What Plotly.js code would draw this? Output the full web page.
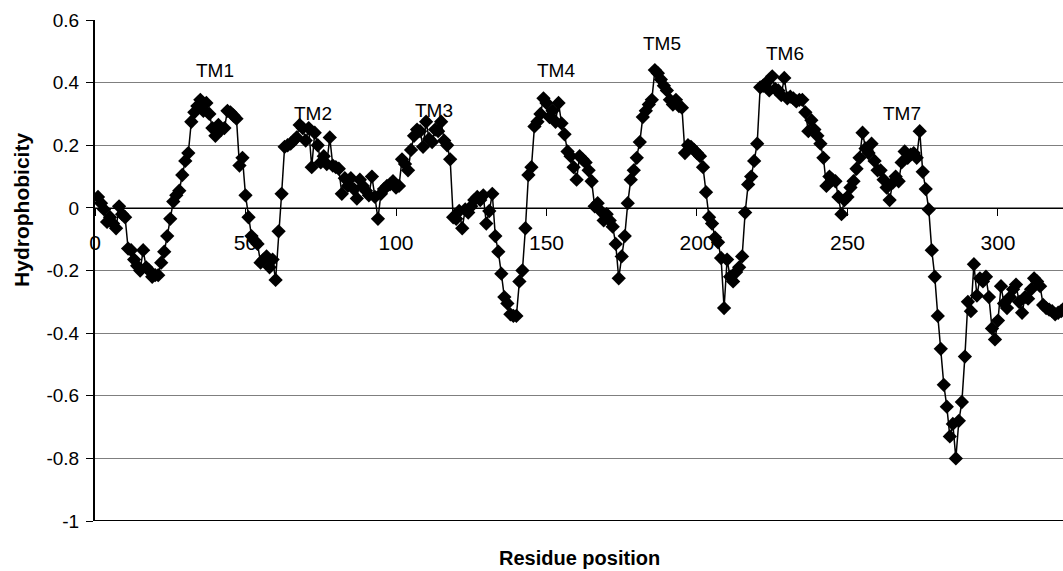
<!DOCTYPE html>
<html>
<head>
<meta charset="utf-8">
<script src="https://cdn.plot.ly/plotly-3.0.1.min.js"></script>
<style>
  html, body { margin: 0; padding: 0; background: #ffffff; }
  #chart { width: 1063px; height: 571px; }
</style>
</head>
<body>
<div id="chart"></div>
<script>
// Hydrophobicity value for residue 1, 2, 3, ...
const hydrophobicity = [
  0.035, 0.015, -0.005, -0.045, -0.03, -0.05, -0.065, 0.005, -0.02, -0.03,
  -0.13, -0.135, -0.165, -0.185, -0.2, -0.135, -0.19, -0.2, -0.22, -0.215,
  -0.215, -0.175, -0.14, -0.09, -0.035, 0.02, 0.04, 0.055, 0.105, 0.15,
  0.175, 0.275, 0.305, 0.325, 0.345, 0.31, 0.335, 0.3, 0.255, 0.23,
  0.265, 0.25, 0.255, 0.31, 0.305, 0.295, 0.285, 0.135, 0.16, 0.04,
  -0.03, -0.09, -0.105, -0.115, -0.175, -0.165, -0.155, -0.19, -0.165, -0.23,
  -0.075, 0.045, 0.195, 0.2, 0.205, 0.215, 0.225, 0.265, 0.255, 0.215,
  0.255, 0.13, 0.24, 0.2, 0.145, 0.165, 0.14, 0.225, 0.135, 0.13,
  0.125, 0.045, 0.095, 0.07, 0.095, 0.06, 0.03, 0.09, 0.07, 0.055,
  0.04, 0.1, 0.035, -0.035, 0.045, 0.06, 0.07, 0.075, 0.085, 0.065,
  0.07, 0.155, 0.14, 0.12, 0.185, 0.23, 0.25, 0.245, 0.195, 0.275,
  0.22, 0.21, 0.25, 0.245, 0.275, 0.215, 0.2, 0.155, -0.03, -0.035,
  -0.01, -0.065, -0.005, -0.015, 0.005, 0.025, 0.035, 0.025, 0.04, -0.05,
  -0.01, 0.045, -0.09, -0.14, -0.21, -0.285, -0.305, -0.34, -0.345, -0.345,
  -0.235, -0.2, -0.065, 0.105, 0.13, 0.26, 0.275, 0.3, 0.35, 0.335,
  0.29, 0.31, 0.275, 0.335, 0.27, 0.235, 0.18, 0.165, 0.13, 0.09,
  0.165, 0.155, 0.145, 0.12, 0.085, 0.005, 0.015, -0.01, -0.04, -0.02,
  -0.04, -0.06, -0.115, -0.225, -0.155, -0.09, 0.015, 0.09, 0.12, 0.16,
  0.21, 0.29, 0.31, 0.33, 0.345, 0.44, 0.43, 0.41, 0.39, 0.375,
  0.345, 0.33, 0.345, 0.325, 0.32, 0.175, 0.2, 0.195, 0.185, 0.175,
  0.165, 0.13, 0.05, -0.03, -0.05, -0.095, -0.11, -0.16, -0.32, -0.165,
  -0.22, -0.235, -0.205, -0.19, -0.155, -0.015, 0.075, 0.1, 0.15, 0.205,
  0.385, 0.39, 0.4, 0.375, 0.42, 0.38, 0.375, 0.36, 0.415, 0.35,
  0.355, 0.35, 0.34, 0.345, 0.345, 0.305, 0.245, 0.28, 0.25, 0.23,
  0.205, 0.16, 0.07, 0.1, 0.09, 0.085, 0.035, -0.02, 0.025, 0.035,
  0.065, 0.085, 0.125, 0.16, 0.24, 0.19, 0.175, 0.205, 0.15, 0.12,
  0.12, 0.09, 0.065, 0.025, 0.08, 0.1, 0.085, 0.145, 0.18, 0.16,
  0.17, 0.175, 0.16, 0.245, 0.115, 0.06, -0.005, -0.135, -0.22, -0.345,
  -0.45, -0.565, -0.635, -0.73, -0.69, -0.8, -0.68, -0.62, -0.475, -0.3,
  -0.33, -0.18, -0.28, -0.225, -0.235, -0.22, -0.285, -0.385, -0.42, -0.36,
  -0.25, -0.305, -0.32, -0.285, -0.26, -0.245, -0.3, -0.335, -0.285, -0.29,
  -0.26, -0.225, -0.235, -0.25, -0.31, -0.32, -0.325, -0.33, -0.34, -0.335,
  -0.33, -0.32, -0.325
];
const residue = hydrophobicity.map((_, i) => i + 1);

// Transmembrane segment labels and where they sit (data coordinates)
const tmLabels = ["TM1", "TM2", "TM3", "TM4", "TM5", "TM6", "TM7"];
const tmX      = [40, 72.3, 112.7, 153.2, 188.4, 229.3, 268.1];
const tmY      = [0.44, 0.30, 0.31, 0.438, 0.524, 0.492, 0.30];

// Axis ticks
const xTickVals = [0, 50, 100, 150, 200, 250, 300];
const xTickText = ["0", "50", "100", "150", "200", "250", "300"];
const yTickVals = [0.6, 0.4, 0.2, 0, -0.2, -0.4, -0.6, -0.8, -1];
const yTickText = ["0.6", "0.4", "0.2", "0", "-0.2", "-0.4", "-0.6", "-0.8", "-1"];

const FONT = 'Arial, "Liberation Sans", sans-serif';

const trace = {
  type: 'scatter',
  mode: 'lines+markers',
  x: residue,
  y: hydrophobicity,
  line: { color: '#000000', width: 1.5 },
  marker: { symbol: 'diamond', size: 11, color: '#000000' },
  cliponaxis: true,
  hoverinfo: 'x+y'
};

const annotations = tmLabels.map((t, i) => ({
  x: tmX[i], y: tmY[i], xref: 'x', yref: 'y',
  text: t, showarrow: false,
  font: { family: FONT, size: 19, color: '#000000' }
}));
annotations.push({
  x: 0.5, y: 0, xref: 'paper', yref: 'paper',
  xanchor: 'center', yanchor: 'middle', yshift: -37,
  text: '<b>Residue position</b>', showarrow: false,
  font: { family: FONT, size: 20, color: '#000000' }
});
annotations.push({
  x: 0, y: 0.621, xref: 'paper', yref: 'paper',
  xanchor: 'center', yanchor: 'middle', xshift: -73,
  textangle: -90,
  text: '<b>Hydrophobicity</b>', showarrow: false,
  font: { family: FONT, size: 21, color: '#000000' }
});

const layout = {
  width: 1063,
  height: 571,
  margin: { l: 95, r: 0, t: 20, b: 50, pad: 0 },
  paper_bgcolor: '#ffffff',
  plot_bgcolor: '#ffffff',
  showlegend: false,
  font: { family: FONT, size: 19, color: '#000000' },
  xaxis: {
    range: [0, 321.6],
    anchor: 'free',
    position: 0.625,
    tickmode: 'array',
    tickvals: xTickVals,
    ticktext: xTickText,
    ticks: 'outside',
    ticklen: 7,
    tickcolor: '#000000',
    ticklabelstandoff: 9,
    showgrid: false,
    zeroline: false,
    showline: true,
    linecolor: '#000000',
    linewidth: 1,
    tickfont: { family: FONT, size: 21, color: '#000000' }
  },
  yaxis: {
    range: [-1, 0.6],
    tickmode: 'array',
    tickvals: yTickVals,
    ticktext: yTickText,
    ticks: 'outside',
    ticklen: 7,
    tickcolor: '#000000',
    ticklabelstandoff: 3,
    showgrid: true,
    gridcolor: '#7f7f7f',
    gridwidth: 1,
    zeroline: false,
    showline: true,
    linecolor: '#000000',
    linewidth: 2,
    tickfont: { family: FONT, size: 19, color: '#000000' }
  },
  shapes: [{
    type: 'line', xref: 'paper', yref: 'y',
    x0: 0, x1: 1, y0: -1, y1: -1,
    line: { color: '#000000', width: 2 }
  }],
  annotations: annotations
};

Plotly.newPlot('chart', [trace], layout, { displayModeBar: false, staticPlot: true });
</script>
</body>
</html>
